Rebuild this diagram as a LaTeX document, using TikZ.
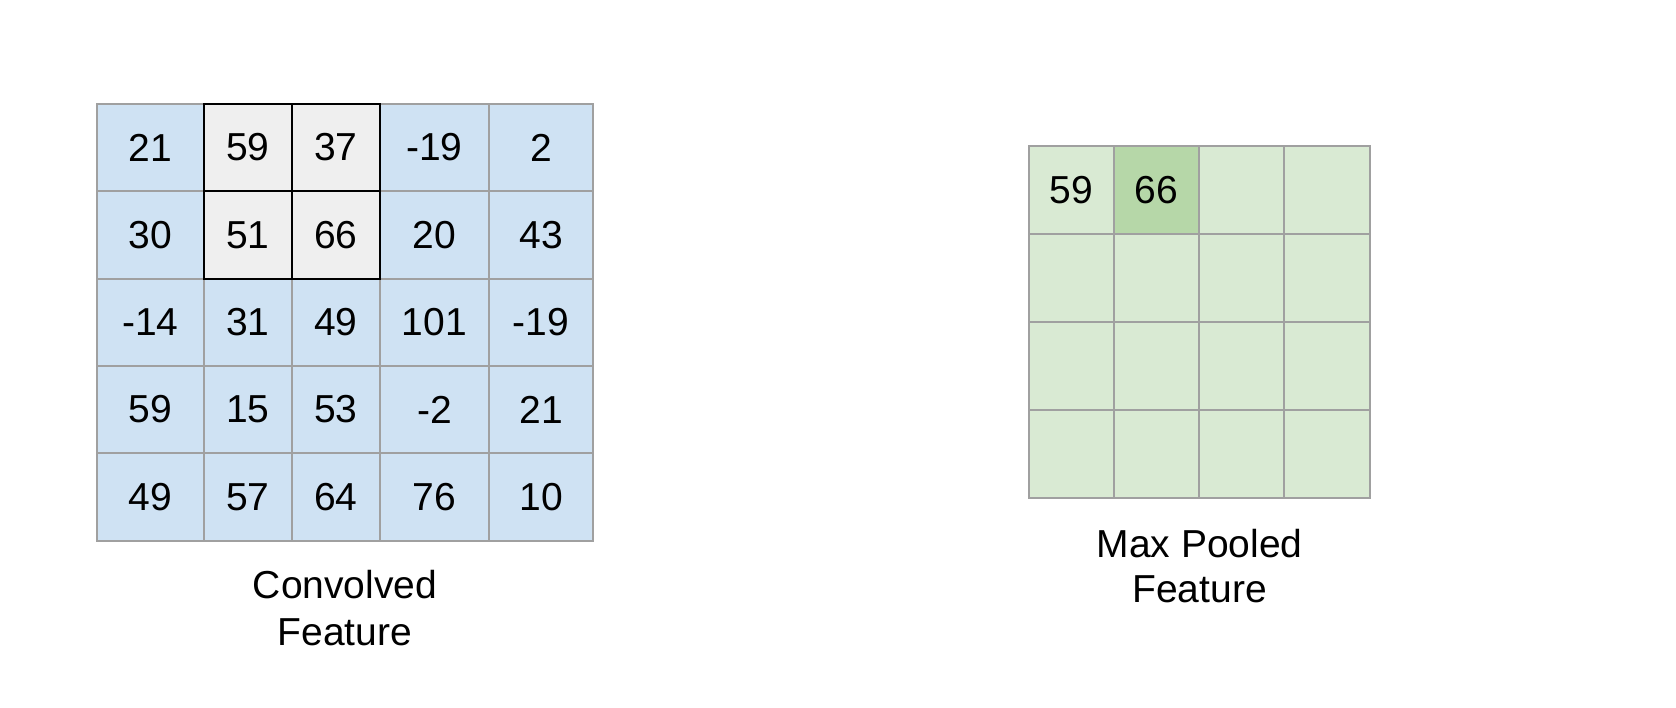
\documentclass[tikz,border=0pt]{standalone}
\usepackage{fontspec}
\setmainfont{Liberation Sans}
\definecolor{cblue}{HTML}{CFE2F3}
\definecolor{cgray}{HTML}{EFEFEF}
\definecolor{glight}{HTML}{D9EAD3}
\definecolor{gdark}{HTML}{B6D7A8}
\definecolor{gline}{HTML}{A0A0A0}
\begin{document}
\begin{tikzpicture}[x=1pt,y=-1pt,
  cellbase/.style={rectangle, line width=2pt, inner sep=0pt, font=\fontsize{39}{42}\selectfont},
  bc/.style={cellbase, draw=gline, fill=cblue},
  hc/.style={cellbase, draw=black, fill=cgray},
  gc/.style={cellbase, draw=gline, fill=glight, minimum height=88pt},
  gd/.style={cellbase, draw=gline, fill=gdark, minimum height=88pt},
  wA/.style={minimum width=107pt}, wB/.style={minimum width=88pt},
  wC/.style={minimum width=109pt}, wD/.style={minimum width=104pt},
  lab/.style={anchor=base, inner sep=0pt, font=\fontsize{39}{42}\selectfont}]
\useasboundingbox (0,0) rectangle (1676,708);
% Convolved feature grid
\foreach \yc/\h/\r/\va/\vb/\vc/\vd/\ve in {
  147.5/87/1/21/59/37/-19/2,
  235/88/2/30/51/66/20/43,
  322.5/87/3/-14/31/49/101/-19,
  409.5/87/4/59/15/53/-2/21,
  497/88/5/49/57/64/76/10}{
  \node[bc, wA, minimum height=\h pt] (a\r1) at (150.5,\yc) {\va};
  \node[bc, wB, minimum height=\h pt] (a\r2) at (248,\yc) {\vb};
  \node[bc, wB, minimum height=\h pt] (a\r3) at (336,\yc) {\vc};
  \node[bc, wC, minimum height=\h pt] (a\r4) at (434.5,\yc) {\vd};
  \node[bc, wD, minimum height=\h pt] (a\r5) at (541,\yc) {\ve};
}
% highlighted 2x2 window
\node[hc, wB, minimum height=87pt] (h11) at (248,147.5) {59};
\node[hc, wB, minimum height=87pt] (h12) at (336,147.5) {37};
\node[hc, wB, minimum height=88pt] (h21) at (248,235) {51};
\node[hc, wB, minimum height=88pt] (h22) at (336,235) {66};
% Max pooled feature grid
\foreach \yc/\r in {190/1,278/2,366/3,454/4}{
  \node[gc, minimum width=85pt] (p\r1) at (1071.5,\yc) {};
  \node[gc, minimum width=85pt] (p\r2) at (1156.5,\yc) {};
  \node[gc, minimum width=85pt] (p\r3) at (1241.5,\yc) {};
  \node[gc, minimum width=86pt] (p\r4) at (1327,\yc) {};
}
\node[gc, minimum width=85pt] (q11) at (1071.5,190) {59};
\node[gd, minimum width=85pt] (q12) at (1156.5,190) {66};
% labels
\node[lab] (conv1) at (345,598) {Convolved};
\node[lab] (conv2) at (345,645) {Feature};
\node[lab] (pool1) at (1199.5,557) {Max Pooled};
\node[lab] (pool2) at (1199.5,602) {Feature};
\end{tikzpicture}
\end{document}
